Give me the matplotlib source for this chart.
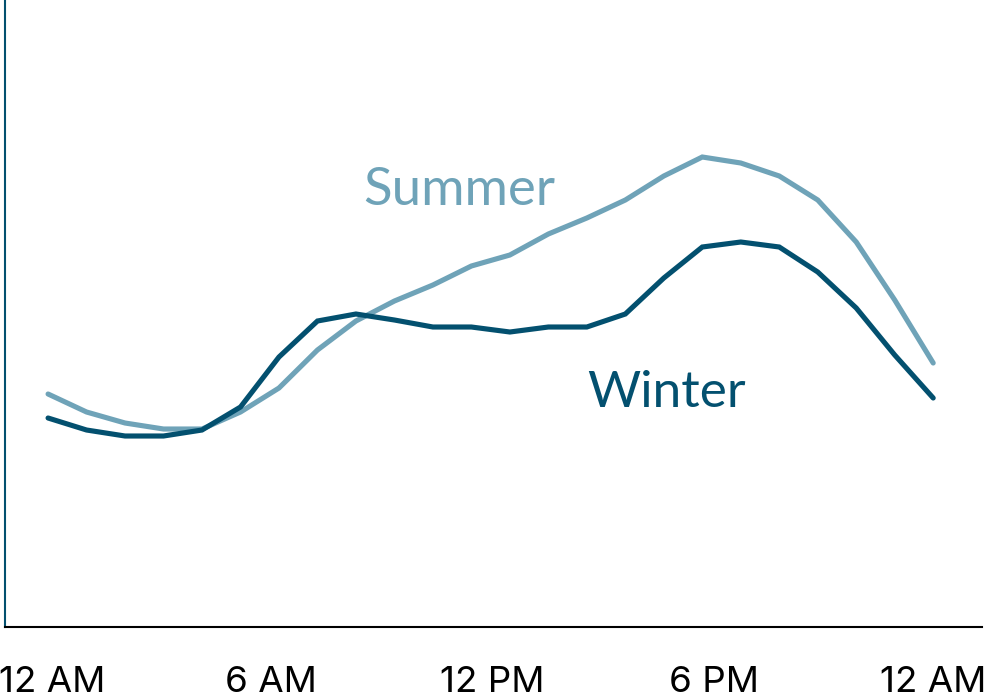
import matplotlib
matplotlib.use("Agg")
import matplotlib.pyplot as plt
import numpy as np

# hourly load profile, arbitrary units
hours = np.arange(24)
winter = [209, 197, 191, 191, 197, 220, 270, 306, 313, 307, 300, 300,
          295, 300, 300, 313, 349, 380, 385, 380, 355, 319, 272, 229]
summer = [233, 215, 204, 198, 198, 215, 239, 277, 306, 326, 342, 361,
          372, 393, 409, 427, 451, 470, 464, 451, 427, 385, 327, 264]
tick_labels = ["12 AM", "6 AM", "12 PM", "6 PM", "12 AM"]
tick_pos = [0.1, 5.8, 11.55, 17.3, 23]

summer_color = "#6fa3b8"
winter_color = "#03506f"

fig = plt.figure(figsize=(9.94, 6.98), dpi=100)
ax = fig.add_axes([0.005, 0.1017, 0.983, 0.8983])

ax.plot(hours, summer, color=summer_color, lw=3.7, solid_capstyle="round",
        solid_joinstyle="miter")
ax.plot(hours, winter, color=winter_color, lw=3.7, solid_capstyle="round",
        solid_joinstyle="miter")

ax.text(8.19, 422, "Summer", color=summer_color, fontsize=38, family="Lato",
        ha="left", va="baseline")
ax.text(14.02, 220, "Winter", color=winter_color, fontsize=37, family="Lato",
        ha="left", va="baseline")

ax.set_xlim(-1.12, 24.27)
ax.set_ylim(0, 627)

ax.set_xticks(tick_pos)
ax.set_xticklabels(tick_labels, fontsize=26.5, family="Inter")
ax.tick_params(axis="x", length=0, pad=28)
ax.set_yticks([])

for side in ["top", "right"]:
    ax.spines[side].set_visible(False)
ax.spines["left"].set_color(winter_color)
ax.spines["left"].set_linewidth(1.5)
ax.spines["bottom"].set_color("black")
ax.spines["bottom"].set_linewidth(1.5)

fig.savefig("out.png", dpi=100)
